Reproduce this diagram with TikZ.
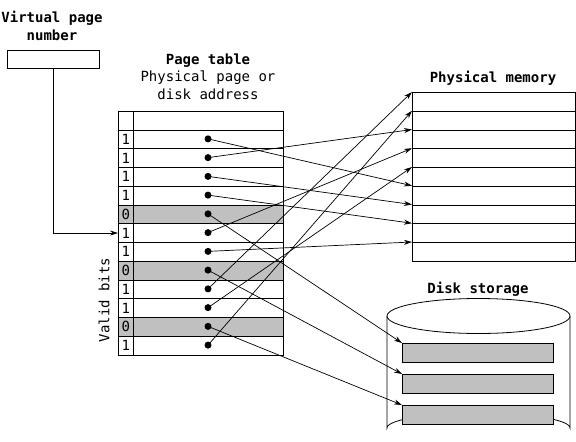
\documentclass[tikz,border=0pt]{standalone}
\usepackage{fontspec}
\setmainfont{DejaVu Sans Mono}
\usetikzlibrary{arrows.meta}
\definecolor{cellgray}{RGB}{192,192,192}
\begin{document}
\begin{tikzpicture}[x=1pt,y=-1pt,
  font=\fontsize{14}{17.5}\selectfont,
  line width=0.8pt,
  arr/.style={-{Stealth[length=8pt,width=5pt]}, line width=0.7pt},
  ttl/.style={font=\fontsize{14}{17.5}\selectfont\bfseries, align=center},
  bitcell/.style={draw, minimum width=15pt, minimum height=18.75pt, inner sep=0pt, anchor=north west},
  addrcell/.style={draw, minimum width=150pt, minimum height=18.75pt, inner sep=0pt, anchor=north west},
  memcell/.style={draw, minimum width=163pt, minimum height=18.75pt, inner sep=0pt, anchor=north west},
  diskrec/.style={draw, fill=cellgray, minimum width=151pt, minimum height=19pt, inner sep=0pt, anchor=north west},
  dot/.style={circle, fill=black, inner sep=0pt, minimum size=7pt}]
\useasboundingbox (0,0) rectangle (576,442);

% titles
\node[ttl] (tvpn) at (52,26) {Virtual page\\number};
\node[align=center] (tpt) at (208,76.5) {\textbf{Page table}\\Physical page or\\disk address};
\node[ttl] (tpm) at (493,78) {Physical memory};
\node[ttl] (tds) at (478,289) {Disk storage};

% virtual page number box
\node[draw, minimum width=92pt, minimum height=18pt, inner sep=0pt] (vpn) at (53,59) {};

% page table header
\node[bitcell, minimum height=18.5pt] (bh) at (118,111) {};
\node[addrcell, minimum height=18.5pt] (ah) at (133,111) {};

% page table rows
\foreach \k/\v in {1/1,2/1,3/1,4/1,5/0,6/1,7/1,8/0,9/1,10/1,11/0,12/1}{
  \pgfmathsetmacro{\yt}{129.5+(\k-1)*18.75}
  \ifnum\v=0
    \node[bitcell, fill=cellgray] (b\k) at (118,\yt) {};
    \node[addrcell, fill=cellgray] (a\k) at (133,\yt) {};
  \else
    \node[bitcell] (b\k) at (118,\yt) {};
    \node[addrcell] (a\k) at (133,\yt) {};
  \fi
  \node (v\k) at (b\k.center) {\v};
  \coordinate (d\k) at (208,\yt+9.375);
}

% valid bits label
\node[rotate=90] (vb) at (104,300) {Valid bits};

% physical memory
\foreach \i in {0,...,8}{
  \pgfmathsetmacro{\ym}{92+\i*18.75}
  \node[memcell] (p\i) at (412,\ym) {};
  \coordinate (m\i) at (412,\ym);
}

% disk storage cylinder
\draw[fill=white] (387,316) -- (387,428) arc[start angle=180, end angle=360, x radius=91.5, y radius=15] -- (570,316);
\draw (478.5,316) ellipse[x radius=91.5, y radius=17.5];
\node[diskrec] (k1) at (402,343) {};
\node[diskrec] (k2) at (402,374) {};
\node[diskrec] (k3) at (402,405) {};

% VPN to page table
\draw[arr] (vpn.south) |- (b6.west);

% connectors to physical memory
\foreach \r/\t in {1/5,2/2,3/6,4/7,6/3,7/8,9/0,10/4,12/1}{
  \draw[arr] (d\r) -- (m\t);
}
% connectors to disk
\draw[arr] (d5) -- (k1.north west);
\draw[arr] (d8) -- (k2.north west);
\draw[arr] (d11) -- (k3.north west);

% dots
\foreach \k in {1,...,12}{
  \node[dot] (dd\k) at (d\k) {};
}
\end{tikzpicture}
\end{document}
